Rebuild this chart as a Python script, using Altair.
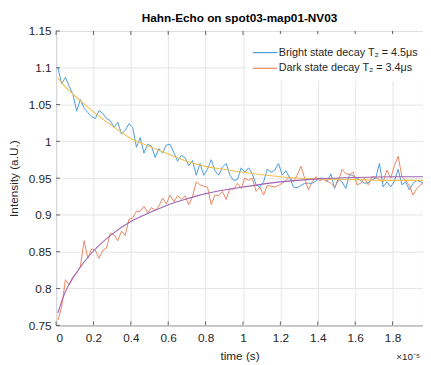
import altair as alt
import pandas as pd

# ---------------- data ----------------
TIME = [round(0.01 + 0.02 * i, 2) for i in range(99)]

BRIGHT = [
    1.100, 1.078, 1.087, 1.075, 1.064, 1.041, 1.057, 1.045, 1.039, 1.034,
    1.031, 1.042, 1.038, 1.031, 1.028, 1.019, 1.026, 1.010, 1.015, 1.024,
    1.019, 0.992, 1.005, 0.984, 0.996, 0.994, 0.978, 0.990, 0.984, 0.995,
    0.996, 0.985, 0.973, 0.981, 0.978, 0.967, 0.974, 0.954, 0.970, 0.954,
    0.962, 0.975, 0.960, 0.954, 0.965, 0.970, 0.954, 0.947, 0.948, 0.964,
    0.958, 0.964, 0.956, 0.941, 0.938, 0.945, 0.962, 0.958, 0.961, 0.970,
    0.954, 0.960, 0.950, 0.938, 0.937, 0.940, 0.943, 0.943, 0.943, 0.946,
    0.950, 0.950, 0.945, 0.956, 0.936, 0.950, 0.945, 0.936, 0.955, 0.953,
    0.950, 0.947, 0.943, 0.944, 0.948, 0.950, 0.970, 0.938, 0.945, 0.938,
    0.946, 0.962, 0.941, 0.945, 0.934, 0.943, 0.947, 0.945, 0.943,
]

DARK = [
    0.757, 0.775, 0.812, 0.805, 0.816, 0.821, 0.830, 0.865, 0.841, 0.854,
    0.852, 0.841, 0.852, 0.855, 0.875, 0.873, 0.865, 0.878, 0.872, 0.894,
    0.896, 0.905, 0.905, 0.912, 0.903, 0.910, 0.906, 0.912, 0.923, 0.915,
    0.927, 0.918, 0.926, 0.921, 0.926, 0.914, 0.925, 0.945, 0.941, 0.939,
    0.938, 0.914, 0.927, 0.926, 0.932, 0.921, 0.936, 0.935, 0.943, 0.936,
    0.950, 0.947, 0.950, 0.932, 0.938, 0.927, 0.940, 0.939, 0.938, 0.940,
    0.943, 0.947, 0.952, 0.945, 0.954, 0.966, 0.950, 0.934, 0.945, 0.952,
    0.947, 0.948, 0.946, 0.943, 0.938, 0.946, 0.962, 0.956, 0.955, 0.958,
    0.941, 0.943, 0.950, 0.941, 0.952, 0.951, 0.948, 0.945, 0.961, 0.950,
    0.967, 0.980, 0.952, 0.947, 0.940, 0.927, 0.936, 0.941, 0.944,
]

FIT_T = [0.01, 0.05, 0.1, 0.15, 0.2, 0.3, 0.4, 0.5, 0.6, 0.7, 0.8, 0.9,
         1.0, 1.2, 1.4, 1.6, 1.8, 1.97]
FIT_BRIGHT = [1.086, 1.074, 1.062, 1.051, 1.040, 1.021, 1.004, 0.993, 0.983,
              0.973, 0.966, 0.962, 0.958, 0.952, 0.949, 0.948, 0.947, 0.947]
FIT_DARK = [0.767, 0.796, 0.818, 0.836, 0.851, 0.874, 0.891, 0.903, 0.914,
            0.922, 0.929, 0.934, 0.938, 0.945, 0.949, 0.951, 0.952, 0.952]

XTICKS = [0, 0.2, 0.4, 0.6, 0.8, 1.0, 1.2, 1.4, 1.6, 1.8]
YTICKS = [0.75, 0.8, 0.85, 0.9, 0.95, 1.0, 1.05, 1.1, 1.15]

LABEL_B = "Bright state decay T\u2082 = 4.5\u03bcs"
LABEL_D = "Dark state decay T\u2082 = 3.4\u03bcs"
SERIES = [LABEL_B, LABEL_D, "Bright fit", "Dark fit"]
COLORS = ["#4a9be0", "#ec8661", "#f2c14e", "#a064b4"]

TITLE = "Hahn-Echo on spot03-map01-NV03"
XTITLE = "time (s)"
YTITLE = "Intensity (a.U.)"
EXPONENT = "\u00d710\u207b\u2075"

FONT = "Liberation Sans"
W, H = 374, 300
XMAX = 1.963

# ---------------- tables ----------------
raw = pd.DataFrame({
    "t": TIME + TIME,
    "v": BRIGHT + DARK,
    "s": [LABEL_B] * len(TIME) + [LABEL_D] * len(TIME),
})
fit = pd.DataFrame({
    "t": FIT_T + FIT_T,
    "v": FIT_BRIGHT + FIT_DARK,
    "s": ["Bright fit"] * len(FIT_T) + ["Dark fit"] * len(FIT_T),
})
xt = pd.DataFrame({"t": XTICKS})
yt = pd.DataFrame({"v": YTICKS})

xs = alt.Scale(domain=[0, XMAX], nice=False, zero=False)
ys = alt.Scale(domain=[0.75, 1.15], nice=False, zero=False)

xaxis = alt.Axis(values=XTICKS, format="~g", title=XTITLE, grid=True,
                 ticks=False, labelPadding=8, titlePadding=7,
                 labelOverlap=False, tickCount=30)
yaxis = alt.Axis(values=YTICKS, format="~g", title=YTITLE, grid=True,
                 ticks=False, labelPadding=5, titlePadding=8,
                 labelOverlap=False, tickCount=30)

color = alt.Color(
    "s:N",
    scale=alt.Scale(domain=SERIES, range=COLORS),
    legend=alt.Legend(
        values=[LABEL_B, LABEL_D], title=None, orient="none",
        legendX=194, legendY=3, fillColor="white", padding=8,
        symbolType="M-1.25,0H1.25", symbolSize=400, symbolStrokeWidth=1.2,
        symbolFillColor="transparent",
        labelFontSize=11, labelFont=FONT, labelColor="#262626",
        labelOffset=3, rowPadding=-4, labelLimit=300,
    ),
)

data_lines = alt.Chart(raw).mark_line(strokeWidth=1.0, clip=True).encode(
    x=alt.X("t:Q", scale=xs, axis=xaxis),
    y=alt.Y("v:Q", scale=ys, axis=yaxis),
    color=color,
)
fit_lines = alt.Chart(fit).mark_line(strokeWidth=1.1, clip=True,
                                     interpolate="monotone").encode(
    x=alt.X("t:Q", scale=xs),
    y=alt.Y("v:Q", scale=ys),
    color=alt.Color("s:N"),
)

tick_col = "#404040"
bottom_ticks = alt.Chart(xt).mark_rule(color=tick_col, strokeWidth=0.8).encode(
    x=alt.X("t:Q", scale=xs), y=alt.value(H), y2=alt.value(H - 4))
top_ticks = alt.Chart(xt).mark_rule(color=tick_col, strokeWidth=0.8).encode(
    x=alt.X("t:Q", scale=xs), y=alt.value(0), y2=alt.value(4))
left_ticks = alt.Chart(yt).mark_rule(color=tick_col, strokeWidth=0.8).encode(
    y=alt.Y("v:Q", scale=ys), x=alt.value(0), x2=alt.value(4))

expo = alt.Chart(pd.DataFrame({"txt": [EXPONENT]})).mark_text(
    align="left", baseline="middle", fontSize=10, font=FONT,
    color="#262626", dy=32, clip=False,
).encode(x=alt.datum(1.82), y=alt.datum(0.75), text="txt:N")

chart = alt.layer(
    data_lines, fit_lines, bottom_ticks, top_ticks, left_ticks, expo
).properties(
    width=W, height=H,
    title=alt.TitleParams(TITLE, fontSize=12, fontWeight="bold", font=FONT,
                          color="#000000", offset=0, anchor="middle"),
    padding={"left": 49, "top": 20, "right": 0, "bottom": 37},
    autosize=alt.AutoSizeParams(type="none"),
).configure_view(
    stroke="#404040", strokeWidth=1,
).configure_axis(
    domain=False, gridColor="#e4e4e4", gridWidth=1,
    labelFont=FONT, labelFontSize=12, labelColor="#262626",
    titleFont=FONT, titleFontSize=12, titleColor="#262626",
    titleFontWeight="normal",
)

chart.save("out.html", embed_options={"renderer": "svg", "actions": False})
